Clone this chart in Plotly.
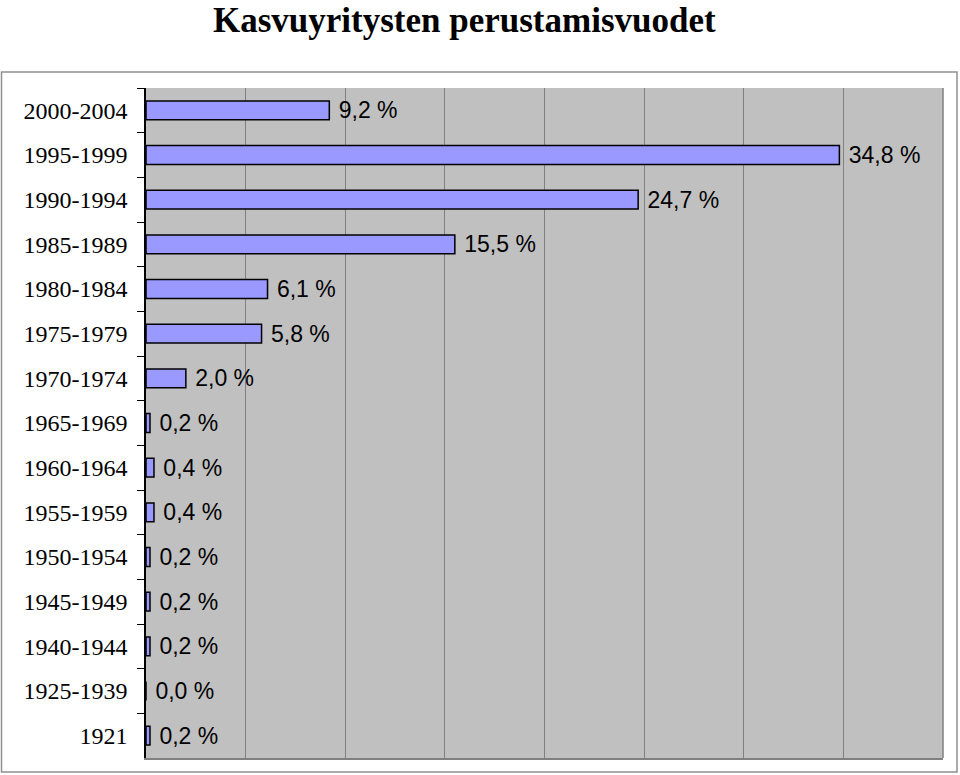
import plotly.graph_objects as go

categories = ["2000-2004", "1995-1999", "1990-1994", "1985-1989", "1980-1984",
              "1975-1979", "1970-1974", "1965-1969", "1960-1964", "1955-1959",
              "1950-1954", "1945-1949", "1940-1944", "1925-1939", "1921"]
values = [9.2, 34.8, 24.7, 15.5, 6.1, 5.8, 2.0, 0.2, 0.4, 0.4, 0.2, 0.2, 0.2, 0.0, 0.2]
labels = [" " + f"{v:.1f}".replace(".", ",") + " %" for v in values]

fig = go.Figure(go.Bar(
    y=categories, x=values, orientation="h",
    marker=dict(color="#9999ff", line=dict(color="#000000", width=1.5)),
    width=0.42,
    text=labels, textposition="outside", cliponaxis=False, constraintext="none",
    textfont=dict(family="Liberation Sans, Arial", size=23, color="#000000"),
))

L, R, T, B = 146, 943, 88, 758
W, H = R - L, B - T
def px(x): return (x - L) / W
def py(y): return (B - y) / H

fig.update_layout(
    width=960, height=775,
    margin=dict(l=L, r=960 - R, t=T, b=775 - B),
    paper_bgcolor="white", plot_bgcolor="#c0c0c0",
    showlegend=False,
    annotations=[dict(text="<b>Kasvuyritysten perustamisvuodet</b>", xref="paper", yref="paper",
                      x=px(464), y=py(20), xanchor="center", yanchor="middle", showarrow=False,
                      font=dict(family="Liberation Serif, Times New Roman", size=35, color="#000000"))],
    shapes=[
        dict(type="rect", xref="paper", yref="paper", x0=px(1.5), x1=px(957), y0=py(772), y1=py(72),
             line=dict(color="#909090", width=1.5), layer="below"),
        dict(type="line", xref="paper", yref="paper", x0=1, x1=1, y0=0, y1=1,
             line=dict(color="#808080", width=1.5)),
    ],
)
fig.update_xaxes(range=[0, 40], dtick=5, showgrid=True, gridcolor="#808080", gridwidth=1,
                 showticklabels=False, zeroline=False, showline=True, linecolor="#808080",
                 linewidth=1.5, ticks="")
fig.update_yaxes(autorange="reversed", showline=True, linecolor="#000000", linewidth=1.5,
                 ticks="outside", ticklen=7, tickcolor="#000000", tickson="boundaries",
                 tickfont=dict(family="Liberation Serif, Times New Roman", size=24, color="#000000"),
                 ticklabelstandoff=12, showgrid=False)

fig.write_html("out.html")
